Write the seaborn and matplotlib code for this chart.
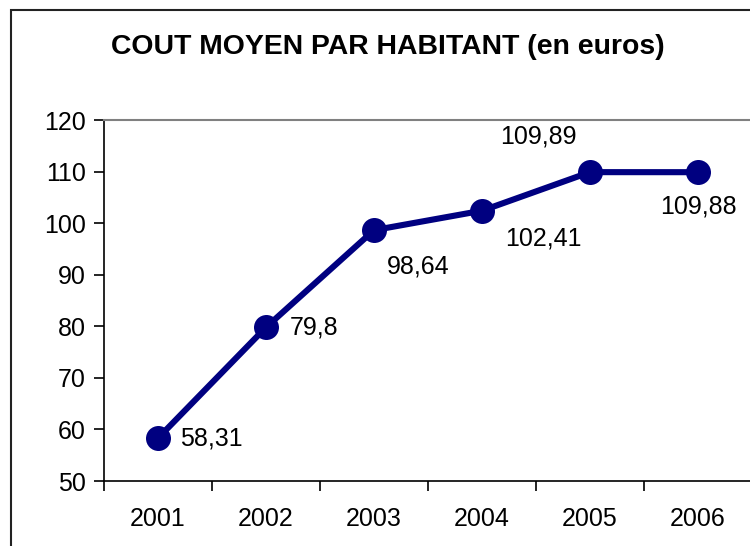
import matplotlib
matplotlib.use('Agg')
import matplotlib.pyplot as plt
from matplotlib.patches import Rectangle
import pandas as pd
import seaborn as sns

# Chart data
years = ['2001', '2002', '2003', '2004', '2005', '2006']
cout = [58.31, 79.8, 98.64, 102.41, 109.89, 109.88]
labels = ['58,31', '79,8', '98,64', '102,41', '109,89', '109,88']
# label offsets in points (dx, dy) and horizontal alignment
offsets = [(16, 0, 'left'), (17, 0, 'left'), (32, -26, 'center'),
           (44, -20, 'center'), (-37, 26, 'center'), (0, -25, 'center')]

df = pd.DataFrame({'pos': range(len(years)), 'cout': cout})

sns.set_style('white')
plt.rcParams['font.family'] = ['Liberation Sans', 'DejaVu Sans']
plt.rcParams['text.color'] = 'black'
plt.rcParams['xtick.color'] = 'black'
plt.rcParams['ytick.color'] = 'black'

fig = plt.figure(figsize=(7.5, 5.46), dpi=100)
ax = fig.add_axes([104 / 750, 1 - 481 / 546, 648 / 750, 361 / 546])

sns.lineplot(data=df, x='pos', y='cout', ax=ax, color='#000080', linewidth=4.4,
             marker='o', markersize=18, markeredgewidth=0, clip_on=False, zorder=3)

for i, (v, lab) in enumerate(zip(cout, labels)):
    dx, dy, ha = offsets[i]
    ax.annotate(lab, (i, v), xytext=(dx, dy), textcoords='offset points',
                ha=ha, va='center', fontsize=18, color='black')

ax.set_xlim(-0.5, len(years) - 0.5)
ax.set_ylim(50, 120)
ax.set_yticks(range(50, 121, 10))
ax.set_xticks(range(len(years)))
ax.set_xticklabels(years)
ax.set_xticks([i - 0.5 for i in range(len(years) + 1)], minor=True)
ax.tick_params(axis='x', which='major', length=0, pad=19, labelsize=18)
ax.tick_params(axis='x', which='minor', length=7, width=1.2, direction='out', bottom=True)
ax.tick_params(axis='y', length=7, width=1.2, direction='out', left=True, pad=6, labelsize=18)
ax.set_xlabel('')
ax.set_ylabel('')

for s in ['left', 'bottom']:
    ax.spines[s].set_color('black')
    ax.spines[s].set_linewidth(1.2)
ax.spines['top'].set_color('#808080')
ax.spines['top'].set_linewidth(1.5)
ax.spines['right'].set_visible(False)

fig.text(388 / 750, 1 - 47 / 546, 'COUT MOYEN PAR HABITANT (en euros)',
         ha='center', va='center', fontsize=20.4, fontweight='bold')

# chart area border (cropped on the right and bottom)
fig.patches.append(Rectangle((11 / 750, -0.1), 1.2, 1 - 10 / 546 + 0.1,
                             transform=fig.transFigure, fill=False,
                             edgecolor='#222222', linewidth=1.5))

fig.savefig('out.png', dpi=100)
